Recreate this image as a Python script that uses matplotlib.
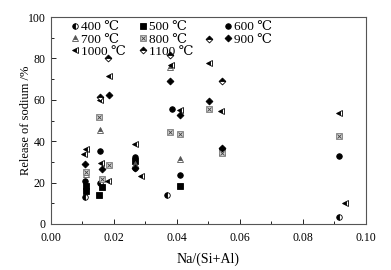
import matplotlib
import matplotlib.pyplot as plt
from matplotlib.ticker import MultipleLocator

matplotlib.use("Agg")

plt.rcParams["font.family"] = ["Liberation Serif", "DejaVu Serif"]
plt.rcParams["mathtext.fontset"] = "stix"

# Na/(Si+Al) ratio and release of sodium (%) per temperature
x_400 = [0.0108, 0.0155, 0.0268, 0.0368, 0.0915]
y_400 = [13.0, 20.0, 27.0, 14.0, 3.5]

x_500 = [0.0110, 0.0112, 0.0153, 0.0162, 0.0268, 0.0410]
y_500 = [16.0, 18.5, 14.0, 17.7, 30.5, 18.5]

x_600 = [0.0108, 0.0155, 0.0268, 0.0385, 0.0410, 0.0542, 0.0915]
y_600 = [21.0, 35.5, 32.5, 55.5, 23.5, 36.0, 33.0]

x_700 = [0.0110, 0.0157, 0.0268, 0.0378, 0.0410, 0.0542]
y_700 = [24.0, 45.5, 29.0, 76.0, 31.5, 35.0]

x_800 = [0.0112, 0.0152, 0.0185, 0.0163, 0.0378, 0.0410, 0.0503, 0.0542, 0.0915]
y_800 = [25.0, 51.5, 28.5, 21.5, 44.5, 43.5, 55.5, 34.5, 42.5]

x_900 = [0.0108, 0.0161, 0.0185, 0.0268, 0.0378, 0.0410, 0.0503, 0.0542]
y_900 = [29.0, 26.5, 62.5, 27.0, 69.0, 52.5, 59.5, 36.5]

x_1000 = [0.0110, 0.0106, 0.0185, 0.0182, 0.0268, 0.0286, 0.0380, 0.0410,
          0.0503, 0.0540, 0.0915, 0.0933, 0.0160, 0.0155]
y_1000 = [36.0, 34.0, 71.5, 20.8, 38.5, 23.4, 77.0, 55.0,
          78.0, 54.5, 53.5, 10.3, 29.5, 60.0]

x_1100 = [0.0181, 0.0155, 0.0378, 0.0503, 0.0542]
y_1100 = [80.0, 61.5, 81.5, 89.5, 69.0]

fig = plt.figure(figsize=(3.91, 2.70), dpi=100)
ax = fig.add_axes([0.1304, 0.1704, 0.8056, 0.7666])

ms = 4
kw = dict(linestyle="none", markersize=ms, color="black", markeredgewidth=0.6)
h400, = ax.plot(x_400, y_400, marker="o", fillstyle="left", markerfacecoloralt="white", **kw)
h500, = ax.plot(x_500, y_500, marker="s", **kw)
h600, = ax.plot(x_600, y_600, marker="o", **kw)
h700, = ax.plot(x_700, y_700, marker="^", fillstyle="top", markerfacecoloralt="white",
                color="#555555", linestyle="none", markersize=ms, markeredgewidth=0.6)
h800a, = ax.plot(x_800, y_800, marker="s", linestyle="none", markersize=ms,
                 markerfacecolor="#d0d0d0", markeredgecolor="#666666", markeredgewidth=0.5)
h800b, = ax.plot(x_800, y_800, marker="x", linestyle="none", markersize=ms - 1,
                 color="#444444", markeredgewidth=0.6)
h900, = ax.plot(x_900, y_900, marker="D", linestyle="none", markersize=ms - 0.5,
                color="black", markeredgewidth=0.6)
h1000, = ax.plot(x_1000, y_1000, marker="<", fillstyle="left", markerfacecoloralt="white", **kw)
h1100, = ax.plot(x_1100, y_1100, marker="D", fillstyle="top", markerfacecoloralt="white",
                 linestyle="none", markersize=ms - 0.5, color="black", markeredgewidth=0.6)

# legend: three columns placed separately to follow the reference spacing
columns = [
    ([h400, h700, h1000], ["400 ℃", "700 ℃", "1000 ℃"], 0.063),
    ([h500, (h800a, h800b), h1100], ["500 ℃", "800 ℃", "1100 ℃"], 0.279),
    ([h600, h900], ["600 ℃", "900 ℃"], 0.549),
]
legs = []
for hs, ls, xpos in columns:
    leg = ax.legend(hs, ls, loc="upper left", frameon=False, fontsize=9.5,
                    handlelength=0.6, handletextpad=0.2, labelspacing=0.0,
                    borderaxespad=0.0, borderpad=0.0, bbox_to_anchor=(xpos, 0.98))
    legs.append(leg)
for leg in legs[:-1]:
    ax.add_artist(leg)

ax.set_xlim(0, 0.10)
ax.set_ylim(0, 100)
ax.xaxis.set_major_locator(MultipleLocator(0.02))
ax.xaxis.set_minor_locator(MultipleLocator(0.01))
ax.yaxis.set_major_locator(MultipleLocator(20))
ax.yaxis.set_minor_locator(MultipleLocator(10))
ax.xaxis.set_major_formatter(matplotlib.ticker.FormatStrFormatter("%.2f"))
ax.tick_params(which="both", direction="in", top=False, right=False, labelsize=8.5)
ax.tick_params(which="major", length=3.5, width=0.6)
ax.tick_params(axis="x", which="major", pad=6)
ax.tick_params(axis="y", which="major", pad=4)
ax.tick_params(which="minor", length=2.5, width=0.6)
for s in ax.spines.values():
    s.set_linewidth(0.8)
    s.set_color("#555555")

ax.set_xlabel("Na/(Si+Al)", fontsize=10, labelpad=6)
ax.set_ylabel("Release of sodium /%", fontsize=9, labelpad=-3)

fig.savefig("out.png", dpi=100)
